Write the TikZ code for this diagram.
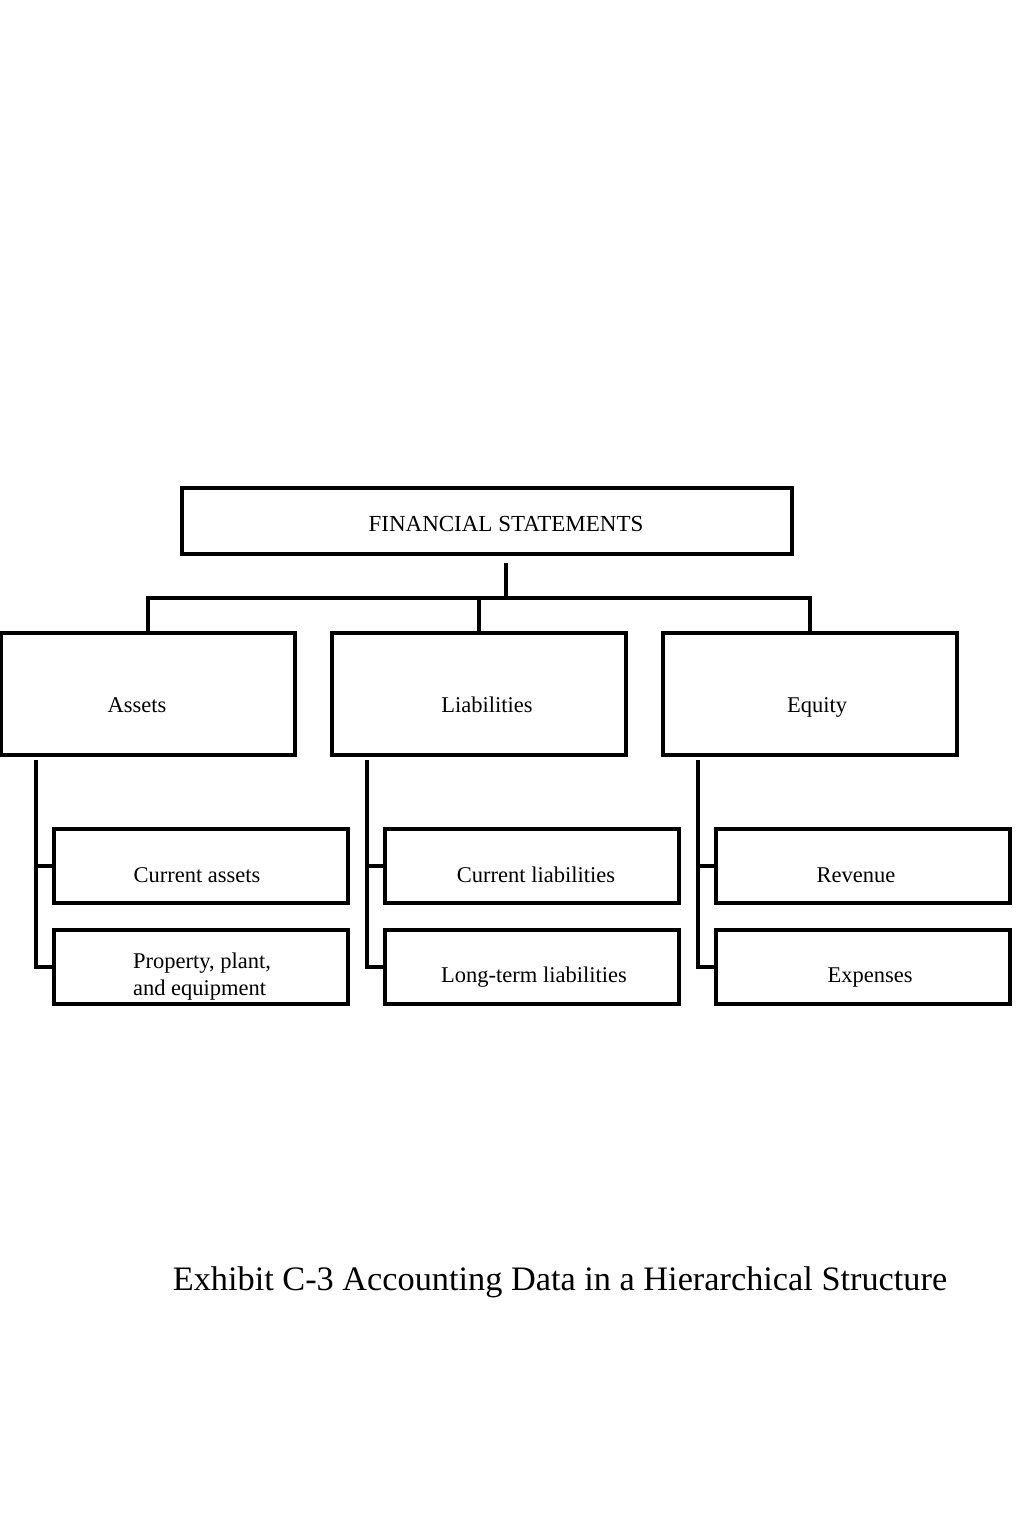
\documentclass[tikz,border=0pt]{standalone}
\usepackage{fontspec}
\setmainfont{Liberation Serif}
\begin{document}
\begin{tikzpicture}[x=1pt,y=-1pt,
  box/.style={draw=black,line width=3.2pt,minimum width=#1,inner sep=0pt,outer sep=0pt},
  lbl/.style={font=\fontsize{22.5}{27}\selectfont,inner sep=0pt,align=center,anchor=base},
  conn/.style={line width=3.2pt,line cap=rect}]
\useasboundingbox (0,0) rectangle (1024,1536);
% top
\node[box=610pt,minimum height=66pt] (fs) at (487,521) {};
\node[lbl,font=\fontsize{23}{28}\selectfont] (fst) at (506,531) {FINANCIAL STATEMENTS};
% middle boxes
\node[box=294pt,minimum height=122pt] (as) at (148,694) {};
\node[box=294pt,minimum height=122pt] (li) at (479,694) {};
\node[box=294pt,minimum height=122pt] (eq) at (810,694) {};
\node[lbl] (ast) at (137,712) {Assets};
\node[lbl] (lit) at (487,712) {Liabilities};
\node[lbl] (eqt) at (817,712) {Equity};
% sub boxes
\node[box=294pt,minimum height=74pt] (ca) at (201,866) {};
\node[box=294pt,minimum height=74pt] (pp) at (201,967) {};
\node[box=294pt,minimum height=74pt] (cl) at (532,866) {};
\node[box=294pt,minimum height=74pt] (lt) at (532,967) {};
\node[box=294pt,minimum height=74pt] (rv) at (863,866) {};
\node[box=294pt,minimum height=74pt] (ex) at (863,967) {};
\node[lbl] (cat) at (197,882) {Current assets};
\node[font=\fontsize{22.5}{27}\selectfont,inner sep=0pt,align=left] (ppt) at (202,977) {Property, plant,\\and equipment};
\node[lbl] (clt) at (536,882) {Current liabilities};
\node[lbl] (ltt) at (534,982) {Long-term liabilities};
\node[lbl] (rvt) at (856,882) {Revenue};
\node[lbl] (ext) at (870,982) {Expenses};
% connectors top
\coordinate (t0) at (506,563);
\coordinate (t1) at (506,597);
\draw[line width=4pt] (t0) -- (t1);
\draw[conn] (as.north) -- ++(0,-35) -| (eq.north);
\draw[conn] (li.north) -- ++(0,-35);
% sub connectors
\foreach \p/\a/\b/\x in {as/ca/pp/36,li/cl/lt/367,eq/rv/ex/698}{
  \coordinate (\p s) at (\x,760);
  \draw[conn,line cap=butt] (\p s) |- (\b.west);
  \draw[conn,line cap=butt] (\a.west) -- ++(-18,0);
}
% caption
\node[font=\fontsize{34.3}{40}\selectfont,inner sep=0pt,anchor=base] (cap) at (560,1290) {Exhibit C-3 Accounting Data in a Hierarchical Structure};
\end{tikzpicture}
\end{document}
